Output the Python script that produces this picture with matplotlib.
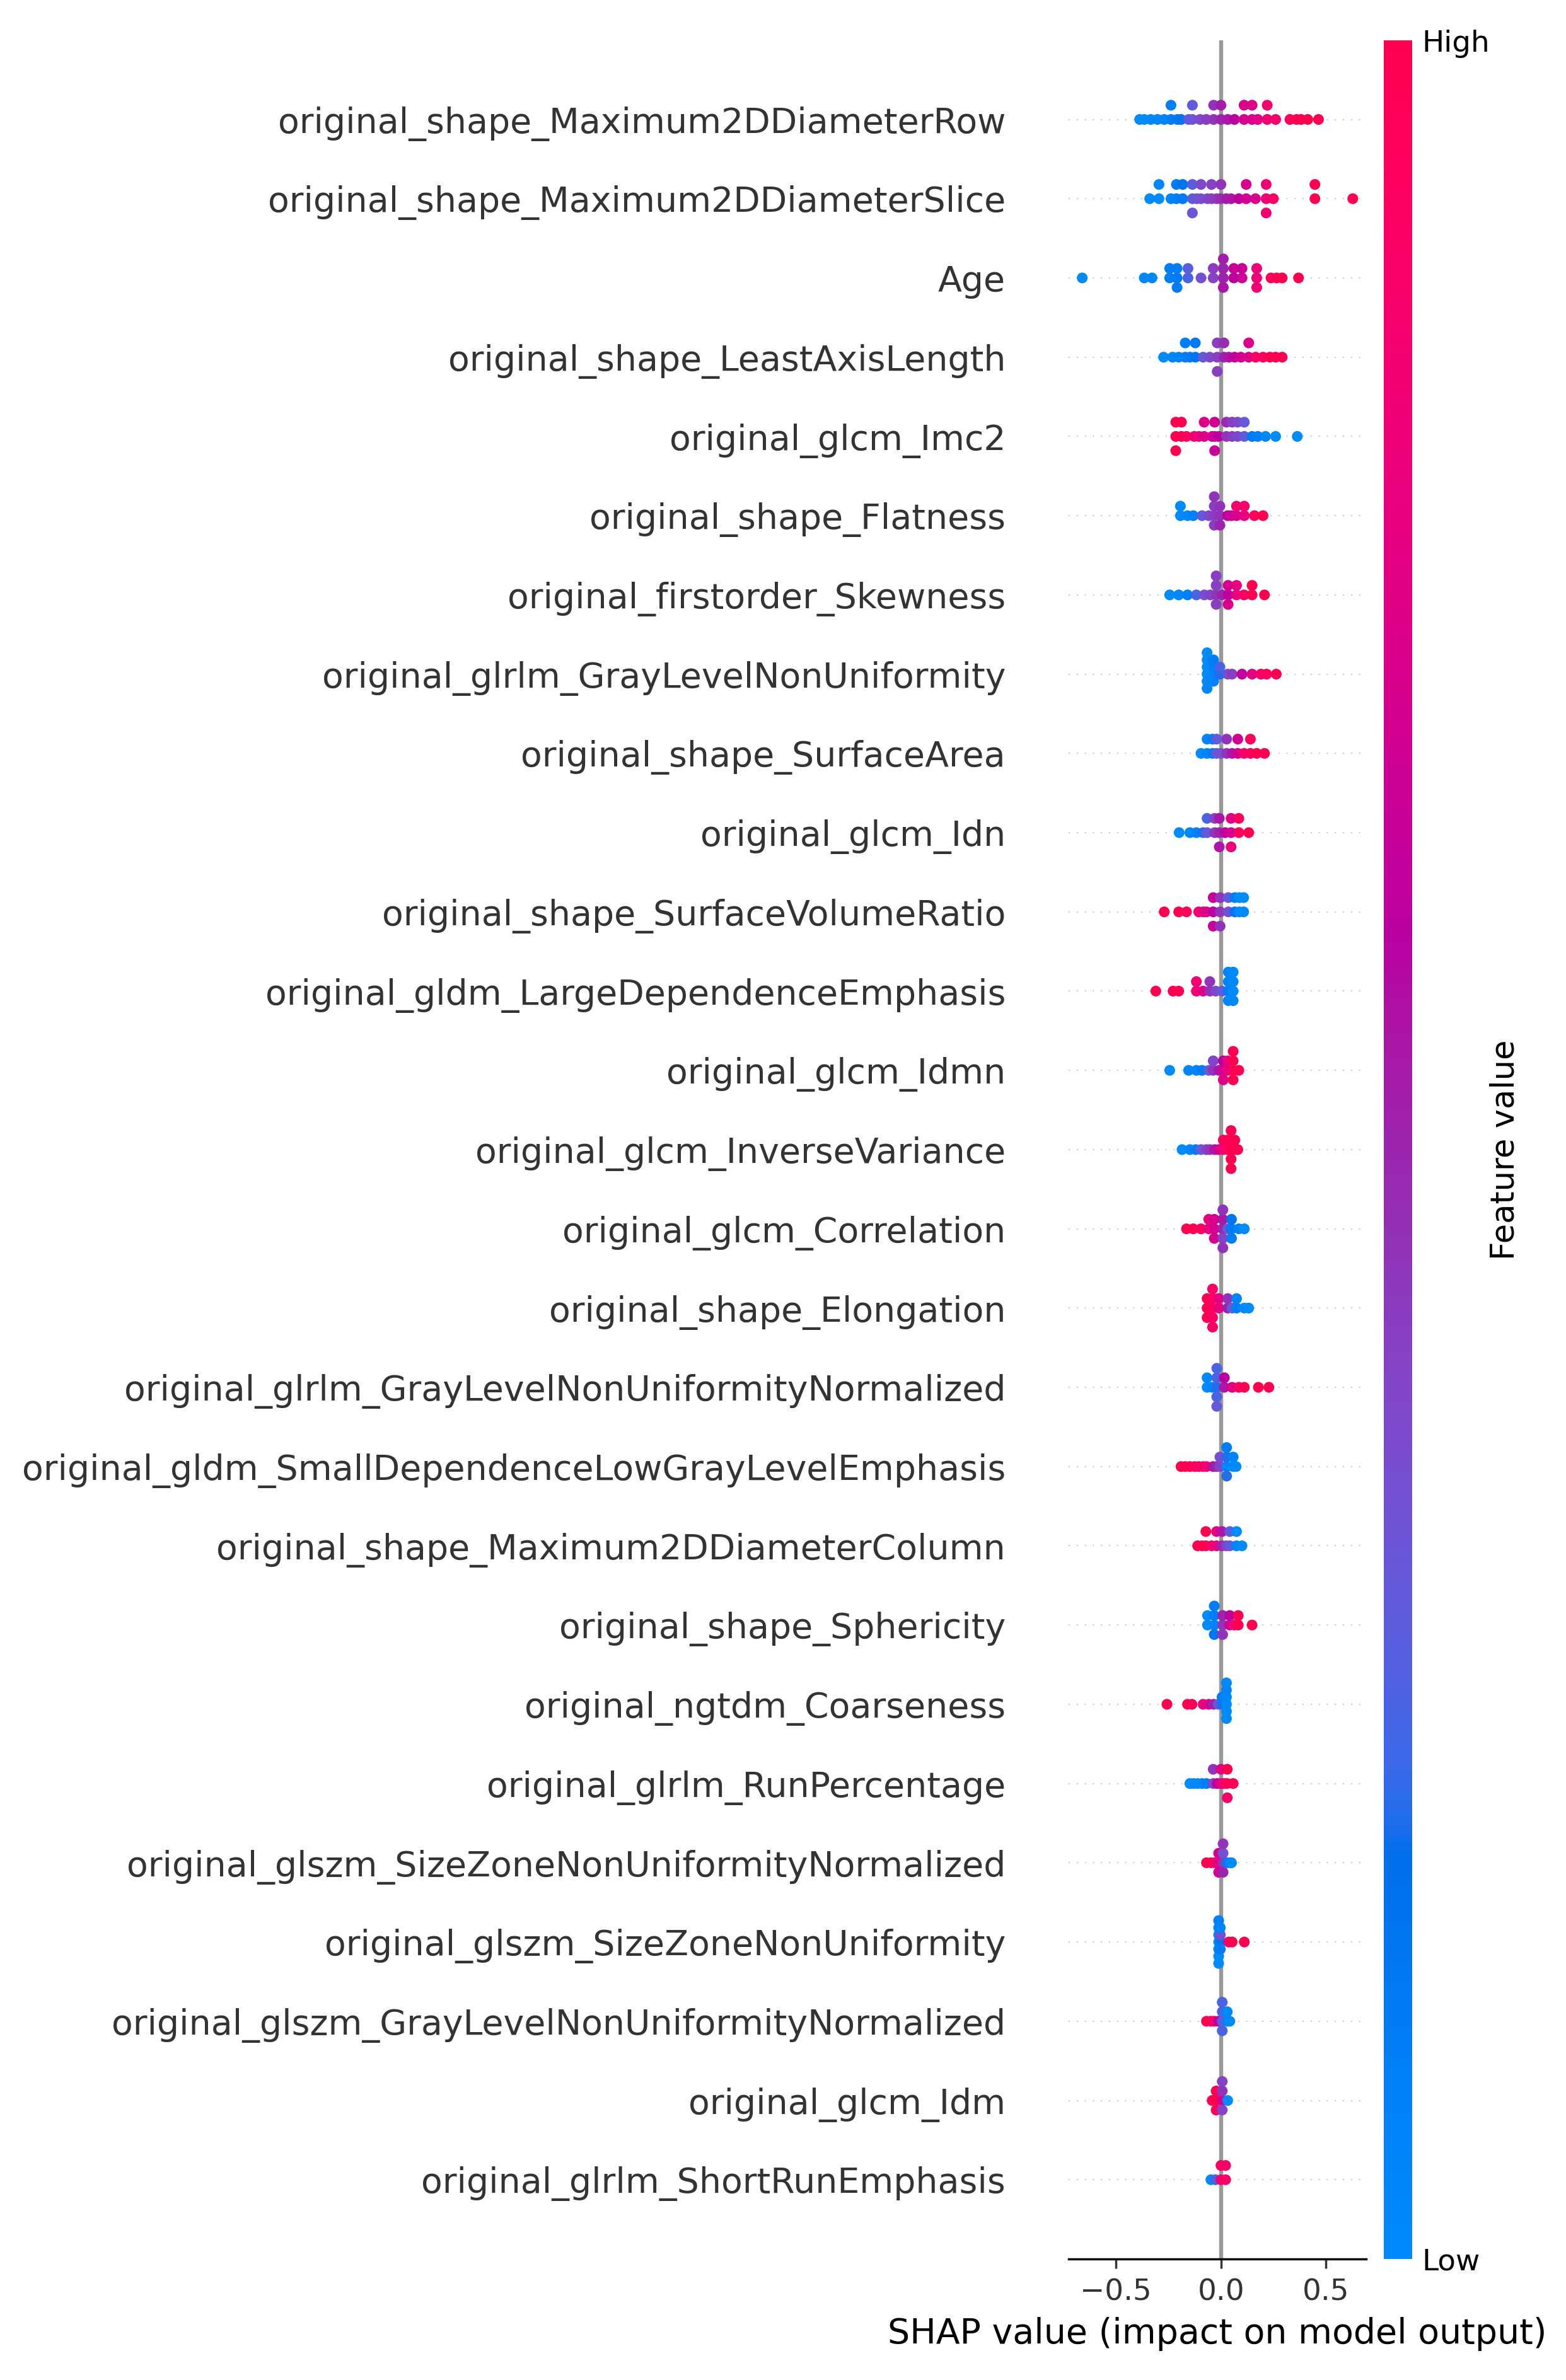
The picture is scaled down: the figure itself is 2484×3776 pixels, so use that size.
import numpy as np
import matplotlib
matplotlib.use("Agg")
import matplotlib.pyplot as plt
from matplotlib.colors import LinearSegmentedColormap

# feature names, top row first
features = [
    "original_shape_Maximum2DDiameterRow",
    "original_shape_Maximum2DDiameterSlice",
    "Age",
    "original_shape_LeastAxisLength",
    "original_glcm_Imc2",
    "original_shape_Flatness",
    "original_firstorder_Skewness",
    "original_glrlm_GrayLevelNonUniformity",
    "original_shape_SurfaceArea",
    "original_glcm_Idn",
    "original_shape_SurfaceVolumeRatio",
    "original_gldm_LargeDependenceEmphasis",
    "original_glcm_Idmn",
    "original_glcm_InverseVariance",
    "original_glcm_Correlation",
    "original_shape_Elongation",
    "original_glrlm_GrayLevelNonUniformityNormalized",
    "original_gldm_SmallDependenceLowGrayLevelEmphasis",
    "original_shape_Maximum2DDiameterColumn",
    "original_shape_Sphericity",
    "original_ngtdm_Coarseness",
    "original_glrlm_RunPercentage",
    "original_glszm_SizeZoneNonUniformityNormalized",
    "original_glszm_SizeZoneNonUniformity",
    "original_glszm_GrayLevelNonUniformityNormalized",
    "original_glcm_Idm",
    "original_glrlm_ShortRunEmphasis",
]

# SHAP values and normalised feature values (0 = low, 1 = high)
shap_00 = [-0.387, -0.365, -0.334, -0.302, -0.270, -0.238, -0.238, -0.207, -0.19, -0.154, -0.136, -0.136,
           -0.10, -0.07, -0.035, -0.035, 0.0, 0.0, 0.032, 0.064, 0.11, 0.11, 0.148, 0.148, 0.175, 0.22, 0.22,
           0.26, 0.328, 0.36, 0.381, 0.413, 0.464]
fval_00 = [0.0, 0.0, 0.02, 0.03, 0.05, 0.1, 0.08, 0.12, 0.15, 0.3, 0.32, 0.3,
           0.38, 0.42, 0.45, 0.46, 0.5, 0.52, 0.55, 0.6, 0.7, 0.72, 0.72, 0.74, 0.76, 0.85, 0.86,
           0.88, 0.95, 1.0, 1.0, 1.0, 1.0]

shap_01 = [-0.339, -0.295, -0.295, -0.238, -0.212, -0.212, -0.182, -0.182, -0.136, -0.136, -0.136, -0.115,
           -0.095, -0.095, -0.064, -0.045, -0.045, -0.02, 0.0, 0.0, 0.025, 0.048, 0.085, 0.12, 0.12, 0.164,
           0.215, 0.215, 0.215, 0.249, 0.447, 0.447, 0.627]
fval_01 = [0.0, 0.0, 0.02, 0.06, 0.08, 0.1, 0.12, 0.15, 0.3, 0.28, 0.32, 0.33,
           0.35, 0.38, 0.4, 0.42, 0.4, 0.44, 0.48, 0.45, 0.52, 0.55, 0.62, 0.68, 0.7, 0.72,
           0.82, 0.85, 0.85, 0.9, 1.0, 1.0, 1.0]

shap_02 = [-0.66, -0.365, -0.328, -0.244, -0.244, -0.209, -0.209, -0.209, -0.157, -0.157, -0.095, -0.037,
           -0.037, 0.011, 0.011, 0.011, 0.011, 0.061, 0.061, 0.1, 0.1, 0.17, 0.17, 0.17, 0.238, 0.265,
           0.291, 0.369]
fval_02 = [0.0, 0.02, 0.03, 0.08, 0.1, 0.12, 0.1, 0.12, 0.25, 0.28, 0.35, 0.4,
           0.42, 0.5, 0.5, 0.55, 0.52, 0.6, 0.65, 0.68, 0.65, 0.82, 0.82, 0.85, 0.95, 1.0,
           1.0, 1.0]

shap_03 = [-0.273, -0.23, -0.201, -0.17, -0.17, -0.148, -0.122, -0.122, -0.085, -0.053, -0.018, -0.018,
           -0.018, 0.014, 0.014, 0.037, 0.065, 0.095, 0.132, 0.132, 0.165, 0.2, 0.233, 0.26, 0.291]
fval_03 = [0.0, 0.02, 0.05, 0.08, 0.08, 0.1, 0.15, 0.12, 0.3, 0.38, 0.42, 0.42,
           0.42, 0.5, 0.48, 0.55, 0.62, 0.7, 0.72, 0.72, 0.9, 0.95, 1.0, 1.0, 1.0]

shap_04 = [-0.215, -0.215, -0.215, -0.188, -0.188, -0.164, -0.127, -0.105, -0.08, -0.08, -0.042, -0.03,
           -0.03, -0.03, -0.011, 0.026, 0.026, 0.053, 0.053, 0.079, 0.079, 0.111, 0.111, 0.148, 0.175,
           0.212, 0.26, 0.363]
fval_04 = [1.0, 1.0, 1.0, 1.0, 1.0, 0.95, 0.85, 0.8, 0.75, 0.75, 0.7, 0.68,
           0.68, 0.65, 0.6, 0.45, 0.48, 0.42, 0.42, 0.38, 0.38, 0.3, 0.3, 0.12, 0.08,
           0.03, 0.0, 0.0]

shap_05 = [-0.193, -0.193, -0.159, -0.132, -0.09, -0.058, -0.032, -0.032, -0.032, -0.032, -0.005, -0.005,
           -0.005, 0.032, 0.05, 0.074, 0.074, 0.111, 0.111, 0.159, 0.2]
fval_05 = [0.0, 0.0, 0.03, 0.08, 0.3, 0.38, 0.42, 0.42, 0.42, 0.45, 0.45, 0.45,
           0.5, 0.62, 0.65, 0.7, 0.85, 0.8, 0.88, 0.95, 1.0]

shap_06 = [-0.244, -0.201, -0.159, -0.117, -0.079, -0.05, -0.023, -0.023, -0.023, -0.023, 0.005, 0.034,
           0.034, 0.034, 0.074, 0.074, 0.11, 0.148, 0.148, 0.207]
fval_06 = [0.0, 0.03, 0.08, 0.25, 0.35, 0.4, 0.45, 0.42, 0.42, 0.42, 0.5, 0.62,
           0.7, 0.72, 0.8, 0.8, 0.9, 1.0, 1.0, 1.0]

shap_07 = [-0.066, -0.066, -0.066, -0.066, -0.066, -0.066, -0.035, -0.035, -0.035, -0.035, -0.005, -0.005,
           0.032, 0.053, 0.1, 0.148, 0.19, 0.217, 0.263]
fval_07 = [0.0, 0.0, 0.02, 0.0, 0.03, 0.0, 0.05, 0.08, 0.06, 0.1, 0.2, 0.25,
           0.35, 0.42, 0.62, 0.75, 0.9, 0.95, 1.0]

shap_08 = [-0.095, -0.066, -0.066, -0.04, -0.04, -0.021, -0.021, 0.0, 0.027, 0.027, 0.053, 0.08,
           0.08, 0.11, 0.14, 0.14, 0.17, 0.207]
fval_08 = [0.0, 0.05, 0.05, 0.1, 0.08, 0.3, 0.3, 0.35, 0.45, 0.45, 0.55, 0.7,
           0.68, 0.88, 0.95, 0.95, 1.0, 1.0]

shap_09 = [-0.199, -0.148, -0.117, -0.085, -0.066, -0.066, -0.03, -0.03, -0.008, -0.008, -0.008, 0.02,
           0.048, 0.048, 0.048, 0.085, 0.085, 0.132]
fval_09 = [0.0, 0.03, 0.06, 0.2, 0.3, 0.25, 0.45, 0.4, 0.5, 0.55, 0.55, 0.62,
           0.7, 0.75, 0.8, 0.95, 0.95, 1.0]

shap_10 = [-0.27, -0.201, -0.164, -0.106, -0.085, -0.069, -0.037, -0.037, -0.037, -0.004, -0.004, -0.004,
           0.035, 0.035, 0.066, 0.066, 0.088, 0.088, 0.108, 0.108]
fval_10 = [1.0, 1.0, 0.95, 0.85, 0.8, 0.75, 0.6, 0.65, 0.65, 0.45, 0.45, 0.45,
           0.35, 0.3, 0.15, 0.1, 0.0, 0.0, 0.0, 0.0]

shap_11 = [-0.31, -0.228, -0.201, -0.117, -0.117, -0.085, -0.053, -0.053, -0.025, 0.005, 0.035, 0.035,
           0.035, 0.035, 0.058, 0.058, 0.058, 0.058]
fval_11 = [1.0, 1.0, 1.0, 0.85, 0.85, 0.75, 0.45, 0.45, 0.38, 0.3, 0.1, 0.05,
           0.02, 0.05, 0.0, 0.02, 0.03, 0.0]

shap_12 = [-0.244, -0.154, -0.117, -0.09, -0.058, -0.037, -0.037, -0.01, 0.011, 0.011, 0.011, 0.032,
           0.032, 0.058, 0.058, 0.058, 0.058, 0.085]
fval_12 = [0.0, 0.02, 0.05, 0.1, 0.3, 0.45, 0.4, 0.55, 0.7, 0.6, 0.75, 0.8,
           0.8, 0.95, 1.0, 1.0, 1.0, 1.0]

shap_13 = [-0.185, -0.148, -0.12, -0.095, -0.07, -0.053, -0.03, -0.011, 0.011, 0.011, 0.032, 0.032,
           0.048, 0.048, 0.048, 0.048, 0.048, 0.066, 0.066, 0.08]
fval_13 = [0.0, 0.02, 0.1, 0.3, 0.4, 0.45, 0.55, 0.7, 0.85, 0.9, 0.95, 1.0,
           1.0, 1.0, 1.0, 1.0, 1.0, 1.0, 1.0, 1.0]

shap_14 = [-0.164, -0.132, -0.095, -0.058, -0.058, -0.032, -0.032, -0.032, 0.009, 0.009, 0.009, 0.009,
           0.009, 0.032, 0.05, 0.05, 0.05, 0.085, 0.111]
fval_14 = [1.0, 1.0, 0.95, 0.8, 0.8, 0.7, 0.7, 0.7, 0.5, 0.55, 0.4, 0.45,
           0.45, 0.3, 0.12, 0.15, 0.1, 0.05, 0.0]

shap_15 = [-0.066, -0.066, -0.066, -0.04, -0.04, -0.04, -0.04, -0.04, -0.011, -0.011, 0.032, 0.032,
           0.053, 0.074, 0.074, 0.111, 0.132]
fval_15 = [1.0, 1.0, 1.0, 0.95, 0.92, 0.9, 0.9, 0.92, 0.8, 0.78, 0.5, 0.45,
           0.3, 0.1, 0.05, 0.0, 0.0]

shap_16 = [-0.066, -0.066, -0.042, -0.02, -0.02, -0.02, -0.02, -0.02, 0.016, 0.016, 0.053, 0.085,
           0.111, 0.178, 0.228]
fval_16 = [0.0, 0.02, 0.05, 0.2, 0.25, 0.25, 0.25, 0.3, 0.55, 0.6, 0.75, 0.9,
           1.0, 1.0, 1.0]

shap_17 = [-0.19, -0.17, -0.148, -0.125, -0.106, -0.085, -0.069, -0.037, -0.02, -0.005, -0.005, 0.027,
           0.027, 0.027, 0.027, 0.058, 0.058, 0.072]
fval_17 = [1.0, 1.0, 1.0, 0.95, 0.9, 0.88, 0.85, 0.55, 0.5, 0.4, 0.35, 0.05,
           0.2, 0.2, 0.1, 0.0, 0.05, 0.0]

shap_18 = [-0.111, -0.09, -0.072, -0.072, -0.045, -0.021, -0.021, 0.005, 0.005, 0.025, 0.042, 0.042,
           0.074, 0.074, 0.1]
fval_18 = [1.0, 1.0, 1.0, 1.0, 0.9, 0.8, 0.8, 0.5, 0.55, 0.4, 0.3, 0.3,
           0.05, 0.0, 0.0]

shap_19 = [-0.064, -0.064, -0.032, -0.032, -0.032, -0.032, 0.008, 0.008, 0.008, 0.042, 0.042, 0.064,
           0.082, 0.082, 0.148]
fval_19 = [0.0, 0.0, 0.05, 0.1, 0.15, 0.1, 0.45, 0.5, 0.45, 0.7, 0.6, 0.85,
           1.0, 1.0, 1.0]

shap_20 = [-0.257, -0.159, -0.138, -0.085, -0.058, -0.035, -0.012, 0.005, 0.005, 0.026, 0.026, 0.026,
           0.026, 0.026, 0.026]
fval_20 = [1.0, 1.0, 1.0, 0.8, 0.7, 0.5, 0.3, 0.2, 0.1, 0.0, 0.02, 0.0,
           0.05, 0.0, 0.03]

shap_21 = [-0.148, -0.13, -0.111, -0.09, -0.069, -0.037, -0.037, -0.018, 0.0, 0.0, 0.015, 0.03,
           0.03, 0.03, 0.058]
fval_21 = [0.0, 0.0, 0.02, 0.05, 0.1, 0.4, 0.45, 0.6, 0.75, 0.75, 0.85, 1.0,
           1.0, 0.9, 1.0]

shap_22 = [-0.069, -0.048, -0.03, -0.011, -0.011, -0.011, 0.01, 0.01, 0.01, 0.01, 0.028, 0.042, 0.05]
fval_22 = [1.0, 1.0, 0.9, 0.75, 0.7, 0.7, 0.45, 0.35, 0.5, 0.45, 0.2, 0.05, 0.0]

shap_23 = [-0.011, -0.011, -0.011, -0.011, -0.011, -0.011, -0.011, -0.003, -0.003, -0.003, -0.003, 0.037,
           0.053, 0.111]
fval_23 = [0.0, 0.02, 0.0, 0.05, 0.0, 0.08, 0.0, 0.15, 0.35, 0.1, 0.05, 0.85,
           1.0, 1.0]

shap_24 = [-0.069, -0.048, -0.032, -0.012, 0.006, 0.006, 0.006, 0.006, 0.03, 0.03, 0.042]
fval_24 = [1.0, 0.95, 0.9, 0.6, 0.3, 0.25, 0.25, 0.25, 0.05, 0.0, 0.0]

shap_25 = [-0.042, -0.023, -0.023, -0.023, 0.006, 0.006, 0.006, 0.006, 0.032]
fval_25 = [1.0, 1.0, 1.0, 0.95, 0.7, 0.45, 0.4, 0.4, 0.0]

shap_26 = [-0.048, -0.026, 0.0, 0.0, 0.022, 0.022]
fval_26 = [0.0, 0.25, 0.85, 0.9, 0.9, 0.9]

shap_rows = [shap_00, shap_01, shap_02, shap_03, shap_04, shap_05, shap_06, shap_07, shap_08,
             shap_09, shap_10, shap_11, shap_12, shap_13, shap_14, shap_15, shap_16, shap_17,
             shap_18, shap_19, shap_20, shap_21, shap_22, shap_23, shap_24, shap_25, shap_26]
fval_rows = [fval_00, fval_01, fval_02, fval_03, fval_04, fval_05, fval_06, fval_07, fval_08,
             fval_09, fval_10, fval_11, fval_12, fval_13, fval_14, fval_15, fval_16, fval_17,
             fval_18, fval_19, fval_20, fval_21, fval_22, fval_23, fval_24, fval_25, fval_26]


def lch_to_rgb(l, c, h):
    # LCH -> Lab -> XYZ (D65) -> sRGB
    a = c * np.cos(h)
    b = c * np.sin(h)
    fy = (l + 16.0) / 116.0
    fx = fy + a / 500.0
    fz = fy - b / 200.0

    def finv(t):
        return t ** 3 if t ** 3 > 0.008856 else (t - 16.0 / 116.0) / 7.787

    xyz = np.array([0.95047 * finv(fx), finv(fy), 1.08883 * finv(fz)])
    m = np.array([[3.2406, -1.5372, -0.4986],
                  [-0.9689, 1.8758, 0.0415],
                  [0.0557, -0.2040, 1.0570]])
    rgb = np.clip(m @ xyz, 0, None)
    rgb = np.where(rgb > 0.0031308, 1.055 * rgb ** (1 / 2.4) - 0.055, 12.92 * rgb)
    return np.clip(rgb, 0, 1)


# blue -> purple -> red, perceptual (same recipe as shap's red_blue)
blue_lch = [54.0, 70.0, 4.6588]
red_lch = [54.0, 90.0, 0.35470565 + 2 * np.pi]
l_mid = 40.0
nsteps = 100
l_vals = list(np.linspace(blue_lch[0], l_mid, nsteps // 2)) + list(np.linspace(l_mid, red_lch[0], nsteps // 2))
c_vals = np.linspace(blue_lch[1], red_lch[1], nsteps)
h_vals = np.linspace(blue_lch[2], red_lch[2], nsteps)
cols = [lch_to_rgb(l, c, h) for l, c, h in zip(l_vals, c_vals, h_vals)]
red_blue = LinearSegmentedColormap.from_list("red_blue", cols)


def swarm_offsets(vals, row_height=0.4, nbins=100):
    vals = np.asarray(vals, dtype=float)
    quant = np.round(nbins * (vals - vals.min()) / (vals.max() - vals.min() + 1e-8))
    order = np.argsort(quant, kind="stable")
    ys = np.zeros(len(vals))
    layer = 0
    last_bin = -1
    for i in order:
        if quant[i] != last_bin:
            layer = 0
        ys[i] = np.ceil(layer / 2) * ((layer % 2) * 2 - 1)
        layer += 1
        last_bin = quant[i]
    ys *= 0.9 * (row_height / np.max(ys + 1))
    return ys


DPI = 307
fig = plt.figure(figsize=(2484.2 / DPI, 3776.2 / DPI), dpi=DPI)
ax = fig.add_axes([0.6824, 0.05085, 0.19, 0.9322])
cax = fig.add_axes([0.8837, 0.05085, 0.0181, 0.9322])

n = len(features)
ax.axvline(x=0, color="#999999", zorder=-1)
for i, name in enumerate(features):
    pos = n - 1 - i
    ax.axhline(y=pos, color="#cccccc", lw=0.5, dashes=(1, 5), zorder=-1)
    sv = np.array(shap_rows[i])
    fv = np.array(fval_rows[i])
    ys = swarm_offsets(sv)
    ax.scatter(sv, pos + ys, c=fv, cmap=red_blue, vmin=0, vmax=1, s=16,
               linewidth=0, zorder=3)

axis_color = "#333333"
ax.set_ylim(-1, n)
ax.set_yticks(range(n))
ax.set_yticklabels(features[::-1], fontsize=13)
ax.tick_params(axis="y", length=0, pad=23.5, labelcolor=axis_color)
ax.tick_params(axis="x", labelsize=11, color=axis_color, labelcolor=axis_color)
ax.xaxis.set_ticks_position("bottom")
for side in ["right", "top", "left"]:
    ax.spines[side].set_visible(False)
ax.set_xlabel("SHAP value (impact on model output)", fontsize=13)

sm = plt.cm.ScalarMappable(cmap=red_blue, norm=plt.Normalize(0, 1))
cb = fig.colorbar(sm, cax=cax, ticks=[0, 1])
cb.set_ticklabels(["Low", "High"])
cb.set_label("Feature value", size=12, labelpad=0)
cb.ax.tick_params(labelsize=11, length=0)
cb.outline.set_visible(False)

fig.savefig("out.png", dpi=DPI)
